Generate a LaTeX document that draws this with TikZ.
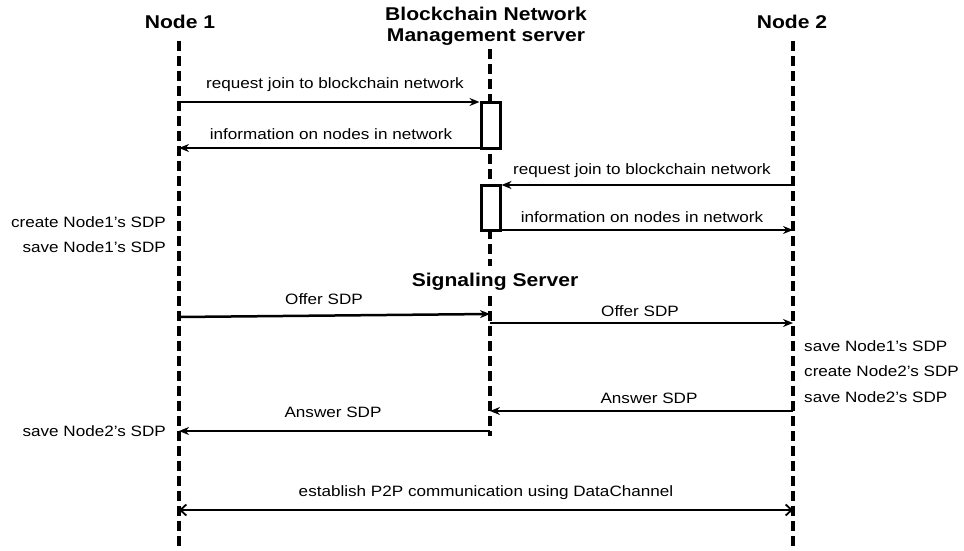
\documentclass[tikz,border=0pt]{standalone}
\usepackage{fontspec}
\setmainfont{Liberation Sans}[FakeStretch=1.14]
\usetikzlibrary{arrows.meta}
\begin{document}
\begin{tikzpicture}[x=1pt,y=-1pt,
  life/.style={line width=3.6pt,dash pattern=on 10pt off 5pt},
  msg/.style={line width=2.5pt,-{Stealth[length=10pt,width=8pt]}},
  bimsg/.style={line width=2.5pt,{Straight Barb[length=6pt,width=11pt,line width=1.8pt]}-{Straight Barb[length=6pt,width=11pt,line width=1.8pt]}},
  lbl/.style={font=\fontsize{15}{17}\selectfont,inner sep=0pt},
  ttl/.style={font=\fontsize{18.5}{21}\selectfont\bfseries,inner sep=0pt,align=center},
  act/.style={draw,line width=3pt,fill=white,minimum width=19pt,inner sep=0pt}]
\useasboundingbox (0,0) rectangle (964,551);
% titles
\node[ttl] (t1) at (180,22) {Node 1};
\node[ttl] (t2) at (486,26) {Blockchain Network\\Management server};
\node[ttl] (t3) at (792,22) {Node 2};
\node[ttl] (t4) at (495,282) {Signaling Server};
% lifeline coordinates
\coordinate (n1top) at (179,41);
\coordinate (n1bot) at (179,551);
\coordinate (n2top) at (793,41);
\coordinate (n2bot) at (793,551);
\coordinate (bmtop) at (490,49);
\coordinate (bmbot) at (490,266);
\coordinate (sstop) at (490,296);
\coordinate (ssbot) at (490,436);
\draw[life] (n1top) -- (n1bot);
\draw[life] (n2top) -- (n2bot);
\draw[life] (bmtop) -- (bmbot);
\draw[life] (sstop) -- (ssbot);
% activation boxes
\node[act,minimum height=46pt] (a1) at (490.5,125) {};
\node[act,minimum height=45pt] (a2) at (490.5,207.5) {};
% message endpoints
\coordinate (m1s) at (179,102);
\coordinate (m2e) at (179,148);
\coordinate (m3s) at (793,185);
\coordinate (m4e) at (793,230);
\coordinate (m5s) at (179,317);
\coordinate (m5e) at (490,314);
\coordinate (m6s) at (490,323);
\coordinate (m6e) at (793,323);
\coordinate (m7s) at (793,411);
\coordinate (m7e) at (490,411);
\coordinate (m8s) at (490,431);
\coordinate (m8e) at (179,431);
\coordinate (m9s) at (179,510);
\coordinate (m9e) at (793,510);
\draw[msg] (m1s) -- (a1.west |- m1s);
\draw[msg] (a1.west |- m2e) -- (m2e);
\draw[msg] (m3s) -- (a2.east |- m3s);
\draw[msg] (a2.east |- m4e) -- (m4e);
\draw[msg] (m5s) -- (m5e);
\draw[msg] (m6s) -- (m6e);
\draw[msg] (m7s) -- (m7e);
\draw[msg] (m8s) -- (m8e);
\draw[bimsg] (m9s) -- (m9e);
% labels
\node[lbl] (l1) at (335,85) {request join to blockchain network};
\node[lbl] (l2) at (331,134) {information on nodes in network};
\node[lbl] (l3) at (642,171) {request join to blockchain network};
\node[lbl] (l4) at (642,217) {information on nodes in network};
\node[lbl] (l5) at (324,299) {Offer SDP};
\node[lbl] (l6) at (640,311) {Offer SDP};
\node[lbl] (l7) at (649,398) {Answer SDP};
\node[lbl] (l8) at (333,412) {Answer SDP};
\node[lbl] (l9) at (486,493) {establish P2P communication using DataChannel};
% notes
\node[lbl,anchor=east] (nl1) at (166,222) {create Node1's SDP};
\node[lbl,anchor=east] (nl2) at (166,247) {save Node1's SDP};
\node[lbl,anchor=east] (nl3) at (166,431) {save Node2's SDP};
\node[lbl,anchor=west] (nr1) at (804,346) {save Node1's SDP};
\node[lbl,anchor=west] (nr2) at (804,371) {create Node2's SDP};
\node[lbl,anchor=west] (nr3) at (804,397) {save Node2's SDP};
\end{tikzpicture}
\end{document}
